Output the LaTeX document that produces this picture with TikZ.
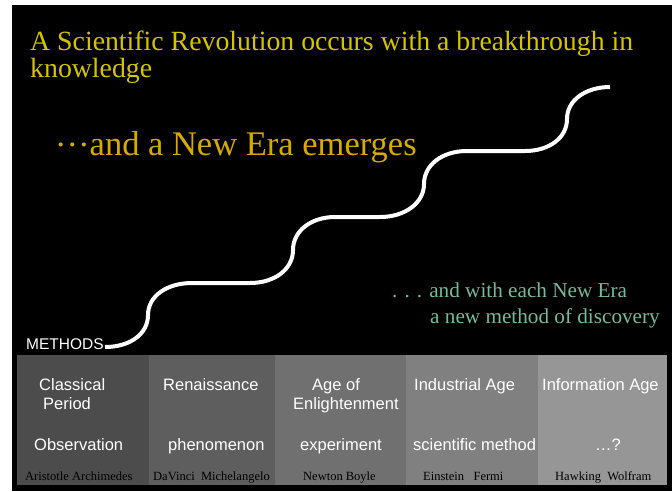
\documentclass[tikz,border=0pt]{standalone}
\usepackage{fontspec}
\setmainfont{Liberation Serif}
\setsansfont{Liberation Sans}
\definecolor{titleyellow}{RGB}{212,196,0}
\definecolor{eragold}{RGB}{214,170,0}
\definecolor{methodteal}{RGB}{118,186,154}
\tikzset{
  lbl/.style={anchor=base west,inner sep=0pt},
  eralbl/.style={lbl,text=white,font=\sffamily\fontsize{16.5}{19}\selectfont},
  namelbl/.style={lbl,text=black,font=\fontsize{12.5}{14}\selectfont},
  stair/.style={white,line width=4pt}
}
\begin{document}
\begin{tikzpicture}[x=1pt,y=-1pt]
\useasboundingbox (0,0) rectangle (672,491);
\fill[black] (12,5) rectangle (672,491);
% the five eras
\foreach \xa/\xb/\g in {17/149/70,149/275/63,275/406/56,406/538/50,538/667/41}
  \fill[black!\g] (\xa,355) rectangle (\xb,485);
% headline texts
\node[lbl,text=titleyellow,font=\fontsize{27.8}{30}\selectfont] (title1) at (30,50)
  {A Scientific Revolution occurs with a breakthrough in};
\node[lbl,text=titleyellow,font=\fontsize{27.8}{30}\selectfont] (title2) at (30,77)
  {knowledge};
\node[lbl,text=eragold,font=\fontsize{34.5}{38}\selectfont] (newera) at (55,155)
  {\raisebox{.25em}{…}and a New Era emerges};
\node[lbl,text=methodteal,font=\fontsize{21.2}{24}\selectfont] (each1) at (392,297)
  {. . . and with each New Era};
\node[lbl,text=methodteal,font=\fontsize{21.2}{24}\selectfont] (each2) at (430,323)
  {a new method of discovery};
\node[lbl,text=white,font=\sffamily\fontsize{15.5}{18}\selectfont] (methods) at (26,349)
  {METHODS};
% the staircase
\draw[stair] (105,347) .. controls (130,347) and (148,334) .. (148,315)
  .. controls (148,296) and (167,283) .. (192,283) -- (250,283)
  .. controls (275,283) and (293,269) .. (293,250)
  .. controls (293,231) and (311,217) .. (335,217) -- (380,217)
  .. controls (405,217) and (424,203) .. (424,184)
  .. controls (424,165) and (442,151) .. (467,151) -- (525,151)
  .. controls (549,151) and (567,138) .. (567,119)
  .. controls (567,100) and (586,87) .. (610,87);
% era names
\node[eralbl] (classical) at (39,390) {Classical};
\node[eralbl] (period) at (43,409) {Period};
\node[eralbl] (renaissance) at (163,390) {Renaissance};
\node[eralbl] (ageof) at (312,390) {Age of};
\node[eralbl] (enlight) at (293,409) {Enlightenment};
\node[eralbl] (industrial) at (414,390) {Industrial Age};
\node[eralbl] (information) at (542,390) {Information Age};
% methods
\node[eralbl] (observation) at (34,450) {Observation};
\node[eralbl] (phenomenon) at (168,450) {phenomenon};
\node[eralbl] (experiment) at (300,450) {experiment};
\node[eralbl] (scimethod) at (413,450) {scientific method};
\node[eralbl] (unknown) at (595,450) {…?};
% people
\node[namelbl] (aristotle) at (25,480) {Aristotle Archimedes};
\node[namelbl] (davinci) at (153,480) {DaVinci\ \ Michelangelo};
\node[namelbl] (newton) at (303,480) {Newton Boyle};
\node[namelbl] (einstein) at (423,480) {Einstein\ \ \ Fermi};
\node[namelbl] (hawking) at (555,480) {Hawking\ \ Wolfram};
\end{tikzpicture}
\end{document}
